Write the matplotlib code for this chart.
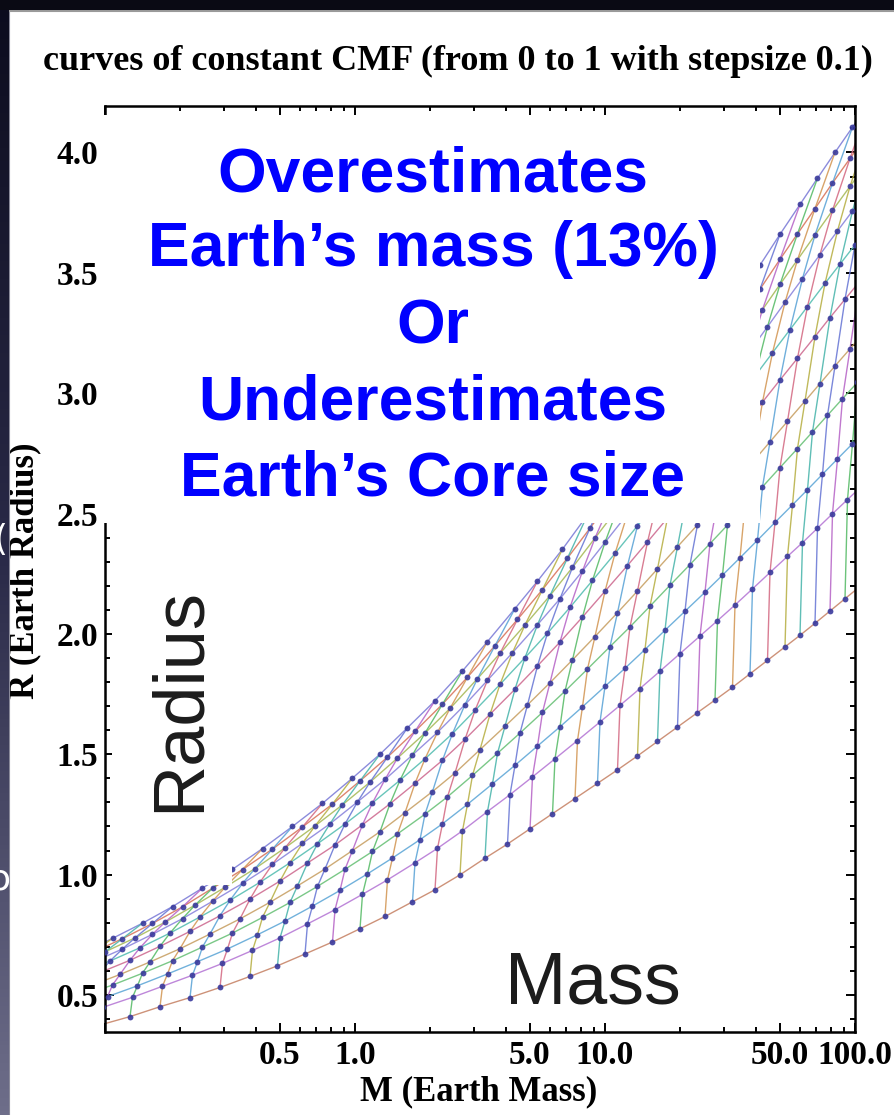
import matplotlib
matplotlib.use("Agg")
import matplotlib.pyplot as plt
from matplotlib.patches import Rectangle
from matplotlib.lines import Line2D
from matplotlib.ticker import NullFormatter
import numpy as np

# core mass fraction of each curve, top curve first
cmf = [0.0, 0.1, 0.2, 0.3, 0.4, 0.5, 0.6, 0.7, 0.8, 0.9, 1.0]

# index of the first constant-pressure dot that sits on each CMF curve
first_dot = [0, 1, 1, 2, 2, 3, 3, 3, 3, 4, 4]

# dots along each CMF curve: log10 mass (Earth masses) and radius (Earth radii)
logm_00 = [-1.09, -0.97, -0.85, -0.73, -0.61, -0.49, -0.37, -0.25, -0.13, -0.01, 0.10, 0.21, 0.32, 0.43, 0.53, 0.64, 0.73,
           0.83, 0.93, 1.02, 1.11, 1.20, 1.29, 1.38, 1.46, 1.54, 1.62, 1.70, 1.78, 1.85, 1.92, 1.99, 2.06]
r_00 = [0.675, 0.735, 0.798, 0.867, 0.944, 1.022, 1.108, 1.200, 1.296, 1.401, 1.500, 1.610, 1.722, 1.846, 1.968, 2.105, 2.219,
        2.352, 2.494, 2.624, 2.755, 2.890, 3.025, 3.160, 3.283, 3.407, 3.532, 3.660, 3.784, 3.893, 4.000, 4.105, 4.210]

logm_01 = [-1.05, -0.93, -0.81, -0.69, -0.57, -0.45, -0.33, -0.21, -0.09, 0.02, 0.13, 0.24, 0.35, 0.45, 0.56, 0.65, 0.75,
           0.85, 0.94, 1.03, 1.12, 1.21, 1.30, 1.38, 1.46, 1.54, 1.62, 1.70, 1.77, 1.84, 1.91, 1.98, 2.05]
r_01 = [0.676, 0.734, 0.797, 0.866, 0.943, 1.021, 1.106, 1.198, 1.293, 1.389, 1.488, 1.595, 1.708, 1.820, 1.951, 2.060, 2.184,
        2.315, 2.439, 2.565, 2.693, 2.824, 2.955, 3.071, 3.191, 3.311, 3.432, 3.556, 3.662, 3.767, 3.873, 3.975, 4.077]

logm_02 = [-1.12, -1.00, -0.88, -0.76, -0.64, -0.52, -0.40, -0.28, -0.16, -0.05, 0.06, 0.17, 0.28, 0.38, 0.49, 0.58, 0.68,
           0.78, 0.87, 0.96, 1.05, 1.14, 1.23, 1.31, 1.39, 1.47, 1.55, 1.63, 1.70, 1.77, 1.84, 1.91, 1.98, 2.04]
r_02 = [0.624, 0.679, 0.737, 0.802, 0.873, 0.947, 1.025, 1.111, 1.202, 1.290, 1.384, 1.484, 1.588, 1.690, 1.814, 1.919, 2.037,
        2.159, 2.276, 2.398, 2.520, 2.644, 2.771, 2.884, 2.997, 3.113, 3.229, 3.347, 3.452, 3.554, 3.657, 3.759, 3.859, 3.944]

logm_03 = [-1.05, -0.93, -0.81, -0.69, -0.57, -0.45, -0.33, -0.21, -0.10, 0.01, 0.12, 0.23, 0.33, 0.44, 0.53, 0.63, 0.73,
           0.82, 0.91, 1.00, 1.09, 1.18, 1.26, 1.34, 1.42, 1.50, 1.58, 1.65, 1.72, 1.79, 1.86, 1.93, 1.99, 2.05]
r_03 = [0.636, 0.691, 0.752, 0.817, 0.889, 0.963, 1.043, 1.130, 1.211, 1.302, 1.395, 1.497, 1.591, 1.706, 1.807, 1.922, 2.038,
        2.146, 2.261, 2.380, 2.498, 2.621, 2.730, 2.839, 2.949, 3.062, 3.175, 3.276, 3.377, 3.476, 3.576, 3.674, 3.757, 3.840]

logm_04 = [-1.10, -0.98, -0.86, -0.74, -0.62, -0.50, -0.38, -0.26, -0.15, -0.04, 0.07, 0.18, 0.28, 0.39, 0.48, 0.58, 0.68,
           0.77, 0.86, 0.95, 1.04, 1.13, 1.21, 1.29, 1.37, 1.45, 1.53, 1.60, 1.67, 1.74, 1.81, 1.88, 1.94, 2.00, 2.06]
r_04 = [0.588, 0.641, 0.696, 0.757, 0.824, 0.893, 0.968, 1.049, 1.128, 1.210, 1.298, 1.392, 1.481, 1.586, 1.682, 1.790, 1.901,
        2.003, 2.110, 2.222, 2.334, 2.449, 2.553, 2.658, 2.762, 2.869, 2.977, 3.071, 3.168, 3.264, 3.360, 3.456, 3.536, 3.616,
        3.696]

logm_05 = [-1.02, -0.90, -0.78, -0.66, -0.54, -0.42, -0.30, -0.19, -0.08, 0.03, 0.14, 0.24, 0.35, 0.44, 0.54, 0.64, 0.73,
           0.82, 0.91, 1.00, 1.09, 1.17, 1.25, 1.33, 1.41, 1.49, 1.56, 1.63, 1.70, 1.77, 1.84, 1.90, 1.96, 2.02]
r_05 = [0.593, 0.644, 0.702, 0.764, 0.829, 0.898, 0.973, 1.048, 1.123, 1.207, 1.294, 1.379, 1.475, 1.562, 1.666, 1.770, 1.867,
        1.966, 2.070, 2.177, 2.284, 2.382, 2.481, 2.580, 2.680, 2.781, 2.871, 2.963, 3.055, 3.145, 3.235, 3.314, 3.390, 3.466]

logm_06 = [-1.06, -0.94, -0.82, -0.70, -0.58, -0.46, -0.34, -0.23, -0.12, -0.01, 0.10, 0.20, 0.31, 0.40, 0.50, 0.60, 0.69,
           0.78, 0.87, 0.96, 1.05, 1.13, 1.21, 1.29, 1.37, 1.45, 1.52, 1.59, 1.66, 1.73, 1.80, 1.86, 1.92, 1.98, 2.04]
r_06 = [0.537, 0.585, 0.637, 0.692, 0.753, 0.816, 0.885, 0.953, 1.023, 1.100, 1.178, 1.257, 1.345, 1.422, 1.519, 1.616, 1.705,
        1.797, 1.892, 1.989, 2.088, 2.178, 2.270, 2.362, 2.453, 2.546, 2.629, 2.713, 2.798, 2.883, 2.967, 3.040, 3.113, 3.184,
        3.256]

logm_07 = [-1.09, -0.97, -0.85, -0.73, -0.61, -0.49, -0.37, -0.26, -0.15, -0.04, 0.07, 0.17, 0.28, 0.37, 0.47, 0.57, 0.66,
           0.75, 0.84, 0.93, 1.02, 1.10, 1.18, 1.26, 1.34, 1.42, 1.49, 1.56, 1.63, 1.70, 1.77, 1.83, 1.89, 1.95, 2.01]
r_07 = [0.498, 0.541, 0.590, 0.642, 0.699, 0.757, 0.822, 0.884, 0.951, 1.022, 1.096, 1.169, 1.251, 1.323, 1.412, 1.504, 1.588,
        1.674, 1.762, 1.854, 1.947, 2.029, 2.115, 2.202, 2.288, 2.375, 2.452, 2.531, 2.611, 2.691, 2.770, 2.839, 2.908, 2.977,
        3.045]

logm_08 = [-1.11, -0.99, -0.87, -0.75, -0.63, -0.51, -0.39, -0.28, -0.17, -0.06, 0.05, 0.15, 0.26, 0.35, 0.45, 0.55, 0.64,
           0.73, 0.82, 0.91, 1.00, 1.08, 1.16, 1.24, 1.32, 1.40, 1.47, 1.54, 1.61, 1.68, 1.75, 1.81, 1.87, 1.93, 1.99, 2.05]
r_08 = [0.453, 0.493, 0.538, 0.587, 0.638, 0.691, 0.750, 0.807, 0.869, 0.934, 1.003, 1.069, 1.145, 1.211, 1.292, 1.377, 1.454,
        1.534, 1.614, 1.697, 1.782, 1.857, 1.935, 2.015, 2.094, 2.173, 2.244, 2.316, 2.389, 2.463, 2.536, 2.599, 2.663, 2.727,
        2.790, 2.854]

logm_09 = [-1.01, -0.89, -0.77, -0.65, -0.53, -0.41, -0.30, -0.19, -0.08, 0.03, 0.13, 0.24, 0.33, 0.43, 0.53, 0.62, 0.71,
           0.80, 0.89, 0.98, 1.06, 1.14, 1.22, 1.30, 1.38, 1.45, 1.52, 1.59, 1.66, 1.73, 1.79, 1.85, 1.91, 1.97, 2.03]
r_09 = [0.448, 0.490, 0.536, 0.582, 0.631, 0.685, 0.737, 0.795, 0.854, 0.918, 0.978, 1.049, 1.109, 1.182, 1.262, 1.332, 1.406,
        1.481, 1.557, 1.634, 1.703, 1.773, 1.845, 1.918, 1.991, 2.055, 2.120, 2.187, 2.255, 2.322, 2.379, 2.439, 2.499, 2.558,
        2.617]

logm_10 = [-1.02, -0.90, -0.78, -0.66, -0.54, -0.42, -0.31, -0.20, -0.09, 0.02, 0.12, 0.23, 0.32, 0.42, 0.52, 0.61, 0.70,
           0.79, 0.88, 0.97, 1.05, 1.13, 1.21, 1.29, 1.37, 1.44, 1.51, 1.58, 1.65, 1.72, 1.78, 1.84, 1.90, 1.96, 2.02]
r_10 = [0.375, 0.410, 0.451, 0.489, 0.531, 0.577, 0.621, 0.670, 0.720, 0.775, 0.826, 0.887, 0.937, 0.999, 1.068, 1.127, 1.190,
        1.253, 1.316, 1.379, 1.435, 1.493, 1.553, 1.613, 1.673, 1.725, 1.778, 1.834, 1.890, 1.946, 1.994, 2.044, 2.095, 2.146,
        2.197]

x_major = [0.1, 0.5, 1, 5, 10, 50, 100]
x_labels = ["", "0.5", "1.0", "5.0", "10.0", "50.0", "100.0"]
x_minor = [0.2, 0.3, 0.4, 0.6, 0.7, 0.8, 0.9, 2, 3, 4, 6, 7, 8, 9, 20, 30, 40, 60, 70, 80, 90]
y_major = [0.5, 1.0, 1.5, 2.0, 2.5, 3.0, 3.5, 4.0]
y_labels = ["0.5", "1.0", "1.5", "2.0", "2.5", "3.0", "3.5", "4.0"]

overlay_lines = ["Overestimates", "Earth\u2019s mass (13%)", "Or", "Underestimates", "Earth\u2019s Core size"]
overlay_baselines = [192, 266, 343, 419, 496]   # pixel rows of the slide text

curves = [(logm_00, r_00), (logm_01, r_01), (logm_02, r_02), (logm_03, r_03), (logm_04, r_04), (logm_05, r_05),
          (logm_06, r_06), (logm_07, r_07), (logm_08, r_08), (logm_09, r_09), (logm_10, r_10)]

curve_colors = ['#7f7fd8', '#d9785f', '#a9bb5c', '#8c86dd', '#58bfb3', '#cf6e93',
                '#c9a267', '#6cc27a', '#62a9d8', '#b77ad6', '#c8866a']
line_colors = ['#d56f87', '#b9b24a', '#4fb7ae', '#6d7bd6', '#b96ac9', '#5cbd6c', '#d49a5a', '#60a6d8']

W, H = 895, 1115
fig = plt.figure(figsize=(W / 100, H / 100), dpi=100)
fig.patch.set_facecolor('white')


def fx(px):
    return px / W


def fy(py):
    return 1 - py / H


ax = fig.add_axes([fx(105), fy(1032), fx(855) - fx(105), fy(106) - fy(1032)])
ax.set_xscale('log')

# constant CMF curves
for k, (lm, rr) in enumerate(curves):
    ax.plot(10 ** np.array(lm), rr, color=curve_colors[k], lw=1.0, alpha=0.9, zorder=2)

# lines joining the dots of equal central pressure
n_lines = max(first_dot[k] + len(curves[k][0]) for k in range(len(curves)))
for j in range(n_lines):
    xs, ys = [], []
    for k in range(len(curves) - 1, -1, -1):
        i = j - first_dot[k]
        if 0 <= i < len(curves[k][0]):
            xs.append(10 ** curves[k][0][i])
            ys.append(curves[k][1][i])
    if len(xs) > 1:
        ax.plot(xs, ys, color=line_colors[j % len(line_colors)], lw=1.0, alpha=0.9, zorder=2)

for lm, rr in curves:
    ax.plot(10 ** np.array(lm), rr, 'o', ms=4.2, color='#3a3a9c', mec='none', alpha=0.9, zorder=3)

ax.set_xlim(0.1, 100)
ax.set_ylim(0.346, 4.193)
ax.set_xticks(x_major)
ax.set_xticklabels(x_labels)
ax.set_xticks(x_minor, minor=True)
ax.xaxis.set_minor_formatter(NullFormatter())
ax.set_yticks(y_major)
ax.set_yticklabels(y_labels)
ax.set_yticks(np.arange(0.4, 4.15, 0.1), minor=True)
ax.yaxis.set_minor_formatter(NullFormatter())
ax.tick_params(which='both', direction='in', top=True, right=True, width=1.4, color='black')
ax.tick_params(which='major', length=6.5)
ax.tick_params(which='minor', length=3.5)
ax.tick_params(axis='x', pad=6)
ax.tick_params(axis='y', pad=5)
for lab in ax.get_xticklabels() + ax.get_yticklabels():
    lab.set_fontfamily('Liberation Serif')
    lab.set_fontweight('bold')
    lab.set_fontsize(24)
for sp in ax.spines.values():
    sp.set_linewidth(1.8)

serif = dict(family='Liberation Serif', weight='bold', color='black')
fig.text(fx(458), fy(70), "curves of constant CMF (from 0 to 1 with stepsize 0.1)", ha='center', va='baseline',
         fontsize=26, **serif)
fig.text(fx(479), fy(1100), "M (Earth Mass)", ha='center', va='baseline', fontsize=25, **serif)
fig.text(fx(25), fy(571), "R (Earth Radius)", ha='center', va='center', rotation=90, fontsize=25, **serif)

# white boxes pasted over the plot on the slide
fig.add_artist(Rectangle((fx(104), fy(523)), fx(760) - fx(104), fy(115) - fy(523), transform=fig.transFigure,
                         facecolor='white', edgecolor='none', zorder=5))
fig.add_artist(Rectangle((fx(112), fy(885)), fx(232) - fx(112), fy(523) - fy(885), transform=fig.transFigure,
                         facecolor='white', edgecolor='none', zorder=5))

for txt, base in zip(overlay_lines, overlay_baselines):
    fig.text(fx(433), fy(base), txt, ha='center', va='baseline', fontsize=45, family='Liberation Sans',
             weight='bold', color='#0000ff', zorder=6)

fig.text(fx(180), fy(700), "Radius", ha='center', va='center', rotation=90, fontsize=52, family='Liberation Sans',
         color='#1c1c1c', zorder=6)
fig.text(fx(593), fy(1004), "Mass", ha='center', va='baseline', fontsize=53, family='Liberation Sans',
         color='#1c1c1c', zorder=6)

# dark slide background showing at the left and top edges
strip = fig.add_axes([0, 0, fx(9), 1], zorder=7)
grad = np.linspace(0, 1, 256).reshape(-1, 1)
strip.imshow(grad, aspect='auto', cmap=matplotlib.colors.LinearSegmentedColormap.from_list(
    'slide', ['#0c0c1e', '#2a2a48', '#6e6e8a']), extent=[0, 1, 0, 1])
strip.set_axis_off()
fig.add_artist(Line2D([fx(9.5), fx(9.5)], [0, fy(10)], transform=fig.transFigure, color='#8a8a9a', lw=0.8, zorder=7))
fig.text(-0.007, fy(540), "(", color='white', fontsize=26, va='center', zorder=8)
fig.text(-0.012, fy(880), "o", color='white', fontsize=26, va='center', zorder=8)
top = fig.add_axes([0, fy(10), 1, 10 / H], zorder=7)
top.set_facecolor('#0a0a14')
top.set_xticks([])
top.set_yticks([])
for sp in top.spines.values():
    sp.set_visible(False)
fig.add_artist(Line2D([fx(9), 1], [fy(11), fy(11)], transform=fig.transFigure, color='#9a9a9a', lw=1.5, zorder=7))

fig.savefig('out.png', dpi=100, facecolor='white')
